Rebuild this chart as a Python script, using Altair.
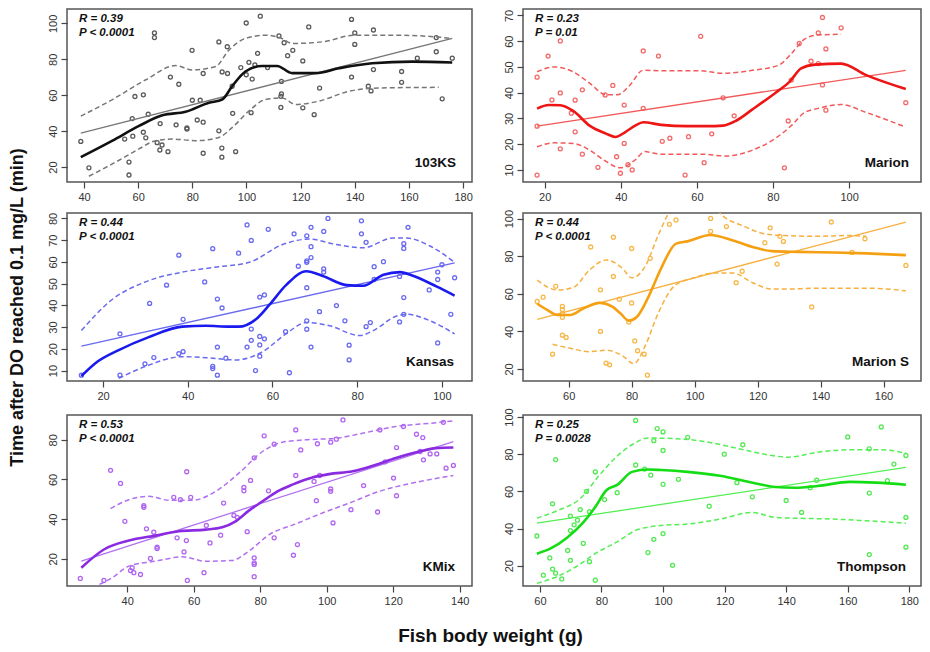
import altair as alt
import pandas as pd

FONT = "Liberation Sans"

# ---------------- Panel 1: 103KS ----------------
ks_px = [38.8, 41.8, 55, 56.6, 56.6, 57.8, 58.8, 58, 61.9, 61.9, 62.8, 63.7, 66, 66, 67, 68.1, 68, 68.8, 71, 71.9,
         74, 75, 78, 78, 79.9, 80, 81.8, 82.9, 84, 84, 84, 89.8, 89.8, 90.9, 90.9, 91, 92.9, 93, 94.9, 94.7,
         96, 97.9, 99.9, 99.9, 100.9, 101.7, 102.1, 103.1, 104.1, 105.1, 107.8, 112, 112.7, 112.9, 112.7, 112.9,
         113.9, 115.2, 117.1, 120.8, 120.8, 123, 125, 127, 138.8, 138.8, 140, 140, 145, 146, 146.9, 146.9,
         157.3, 157.3, 163.1, 170.1, 170.1, 172.3, 176]
ks_py = [34.3, 19.6, 35.6, 22.8, 15.6, 47, 59.3, 37.2, 60.2, 39.4, 36.3, 49.4, 94.7, 92.1, 33.6, 44.2, 29.5, 32.3, 28.6, 70.1,
         43.5, 66.1, 41.8, 41.2, 85, 57.2, 46.2, 57.2, 45, 27.7, 72.1, 89.7, 40.2, 30.6, 25.5, 73, 87, 72.1, 49.9, 65,
         28.6, 75.4, 100.2, 71.4, 78.3, 50.3, 69, 76.9, 83.3, 104, 75.4, 93, 59.4, 60.7, 53.2, 67.7,
         89.2, 82, 85, 79.1, 53, 98, 49.2, 64, 102.2, 70.1, 94.7, 88.3, 65, 62.4, 96.3, 74.3,
         73.2, 67.2, 80.6, 84.2, 92.1, 58, 80.6]
ks_lx = [38.8, 50.5, 60.3, 68.9, 77.5, 86.1, 91, 94.7, 99.6, 105.8, 111.3, 116.9, 125.5, 134.1, 146.4, 161.2, 176]
ks_ly = [25.5, 34.7, 42.9, 48.8, 50.8, 55.8, 57.6, 65, 73.2, 76.3, 76.3, 72.3, 72.3, 75, 77.8, 78.7, 78.2]
ks_ux = [38.8, 50.5, 62.8, 73.8, 80, 88.6, 93.5, 99.6, 107, 113.1, 116.9, 127.9, 140, 154.8, 167.1, 176]
ks_uy = [48.4, 57.6, 68.6, 76.5, 74.1, 76, 85.1, 91.6, 93.4, 91.6, 88.8, 89.7, 93.4, 93.4, 92.8, 91.6]
ks_dx = [41.8, 51.7, 60.3, 66.4, 72.6, 81.2, 89.8, 94.7, 100.9, 107, 113.1, 118.1, 126.7, 137.8, 148.8, 171]
ks_dy = [14.9, 22.8, 30.1, 34.7, 35.6, 34.7, 36.5, 42, 51.2, 57.6, 58.5, 54.9, 56.7, 62.2, 64, 64.4]
ks_fx = [38.8, 176]
ks_fy = [38.9, 91.6]

# ---------------- Panel 2: Marion ----------------
ma_px = [18, 18, 18, 20.9, 21.9, 24.1, 24.1, 24.1, 27, 28, 28, 29.9, 29.9, 34, 35.9, 37.9, 38.9, 39.9, 40.9, 40.9,
         41.9, 43, 45.9, 45.9, 49.9, 50.9, 52.9, 56.9, 57.8, 61, 61.9, 63.9, 66.9, 69.8, 83, 84, 84.8, 86.9,
         90, 91.9, 91.9, 93, 93, 93.9, 93.9, 97.9, 114.9]
ma_py = [8, 27, 46, 54.2, 37.2, 60.1, 39.9, 18.2, 32, 24.8, 37.1, 41.1, 16.1, 11, 39.1, 42.8, 15.1, 8.7, 35.2, 20.3,
         12, 10, 56.2, 33.9, 54.2, 21.1, 22.3, 8, 22.9, 61.9, 12.8, 24, 38, 31, 10.8, 29, 44.9, 59.1,
         52.2, 63.2, 51.3, 69.2, 43, 57, 33.2, 65.2, 36.1]
ma_lx = [18, 21.1, 24.1, 27.5, 31.8, 36.1, 38.6, 41.2, 43.8, 45.9, 50.6, 57.5, 62.6, 66.9, 70.3, 74.6, 80.6, 84.4,
         87.4, 91, 97.9, 104.5, 114.9]
ma_ly = [33.8, 35.2, 35.1, 32.9, 27.2, 24.1, 22.8, 24.7, 27.2, 28.5, 27.5, 27, 27, 27.2, 29.1, 33.5, 39.9, 44.3,
         49.4, 50.9, 51.3, 46.8, 41.4]
ma_ux = [18, 22.4, 27.5, 31.8, 36.1, 39.1, 42.1, 45.9, 50.6, 60.9, 66.9, 74.6, 81.4, 84.8, 88.3, 91.7, 97.9]
ma_uy = [48.1, 50, 48.1, 43.7, 39.2, 39.2, 42.4, 48.7, 48.5, 48.5, 47.5, 48.7, 50.6, 55.1, 60.8, 62.4, 62.7]
ma_dx = [18, 22.4, 27.5, 31.8, 36.1, 39.9, 43.8, 46.3, 50.6, 60.9, 67.7, 74.6, 80.6, 84.8, 88.3, 91.7, 97.9, 104.5, 114.9]
ma_dy = [19, 20.5, 20.3, 17.7, 13.3, 10.8, 13.9, 17.1, 16.1, 16.1, 15.4, 17.7, 22.2, 27.2, 32.3, 33.8, 35.4, 32.3, 26.6]
ma_fx = [18, 114.9]
ma_fy = [27, 48.7]

# ---------------- Panel 3: Kansas ----------------
ka_px = [14.9, 24, 24, 29.9, 31, 32, 35, 37.9, 37.9, 38.9, 38.9, 44, 45.9, 45.9, 45.9, 47, 47, 47, 48.1, 49,
         52, 54, 54, 55, 55, 55, 56, 57, 57, 57, 57, 58.1, 58.1, 59, 63.1, 64, 65.1, 66.1, 68.1, 68.1,
         68.1, 68.1, 68.1, 68.1, 69.1, 69.1, 69.1, 69.1, 71.1, 72.1, 72.1, 72.1, 73.1, 75.1, 77.1, 78.1, 78.1,
         81, 81, 82.1, 82.1, 83.1, 84, 84, 86.2, 90, 90, 91, 91, 91, 91, 92, 97, 99, 99, 99, 100, 102.1, 103]
ka_py = [7.9, 26.9, 7.9, 13.1, 40.9, 16, 49.3, 63.1, 17.8, 33.6, 18.7, 50.8, 66.1, 11.9, 10.9, 42.9, 20.8, 7.9, 38.8, 15.7,
         64, 77, 20.8, 69.9, 29.1, 23.9, 10, 43.8, 25.7, 21.8, 16.6, 44.8, 24.6, 75, 27.9, 9, 72.9, 58, 72, 60.5,
         59.8, 48.1, 32.9, 29, 75.9, 67, 62, 20.8, 37.1, 74, 56.8, 55.3, 80, 39.9, 32.9, 21.7, 14.9,
         78.9, 72.9, 69, 30.2, 32.1, 57.8, 51.9, 60.1, 53.3, 32.4, 68.4, 66.2, 43.6, 35.9, 75.9, 47.1, 55.3, 51.9, 22.7, 58.7, 35.9, 52.7]
ka_lx = [14.9, 18.2, 23.7, 30.8, 38.7, 44.3, 49.8, 52, 56.1, 59.3, 63.2, 68, 71.9, 77.5, 81.4, 86.2, 90.1, 93.3, 98.8, 103]
ka_ly = [7.5, 13.4, 19.4, 25.4, 30.2, 30.6, 30.2, 30.2, 33.6, 40.3, 49.3, 55.7, 53.5, 49.3, 49, 54.1, 55.3, 53.5, 48.6, 44.5]
ka_ux = [14.9, 22.1, 30, 38.7, 46.2, 54.5, 62.4, 68.7, 75.1, 81.4, 88.5, 91.6, 97.2, 103]
ka_uy = [28.4, 42.6, 50.8, 55.3, 57.5, 59.8, 68, 70.5, 68, 66.5, 71, 71, 67.3, 59.8]
ka_dx = [23.7, 30, 38.7, 45.9, 51.4, 57.7, 63.2, 68, 73.5, 80.6, 83.8, 89.3, 91.6, 97.2, 103]
ka_dy = [6.4, 11.9, 16.4, 15.7, 14.9, 18.7, 26.9, 32.1, 30.6, 26.1, 28.4, 35.1, 35.9, 32.9, 26.9]
ka_fx = [14.9, 103]
ka_fy = [21.2, 59.5]

# ---------------- Panel 4: Marion S ----------------
ms_px = [50, 51.9, 54.9, 55.9, 58, 58, 58, 58, 58, 59.2, 67, 70.1, 70.1, 71.9, 73, 74.2, 74.2, 76.1, 79.1, 80,
         80, 81, 81.9, 84, 85, 85.9, 92, 94.1, 105.1, 105.1, 110.1, 113.2, 115.1, 122.3, 124, 126.2, 127.1,
         128.2, 137.2, 143.4, 150, 154.1, 167.1]
ms_py = [55.9, 58.2, 27.9, 64, 53.3, 51.6, 49.5, 47.5, 38, 36.8, 84.9, 62.1, 40, 23.1, 22.2, 90.1, 69.2, 57.1, 45, 84.1,
         55.1, 34.9, 29.7, 27.9, 16.7, 78.9, 97, 99.3, 100.1, 93.2, 95.8, 65.9, 72, 87.2, 95.1, 75.8, 90.6,
         87.9, 53, 98.2, 82, 89.3, 75.1]
ms_lx = [50, 53.3, 56.4, 60.5, 64.6, 69.8, 74, 76.5, 79.1, 81.7, 85.3, 89.4, 94.1, 97.7, 105, 112.2, 118.4, 124.6,
         132.8, 144.2, 154.5, 167.1]
ms_ly = [54.7, 51.3, 48.7, 48.7, 52.1, 55.2, 53, 49.5, 45.7, 47.8, 58.2, 73.7, 86.7, 87.9, 91.3, 88.4, 84.9, 82.7,
         82.3, 82, 81.5, 80.6]
ms_ux = [50, 56.4, 61.5, 66.7, 71.9, 77, 80.1, 84.3, 88.4, 92, 95, 100, 105, 109, 115.3, 122.5, 128.7, 139, 149.3, 154.5]
ms_uy = [67.3, 62, 63.4, 72.8, 78, 73.7, 68.5, 74.6, 91, 103.4, 108, 110, 108, 101.3, 96.2, 91.8, 91, 90.6, 91, 90.6]
ms_dx = [54.9, 59.5, 66.7, 71.9, 77, 80.7, 84.3, 88.4, 93.6, 99.8, 106, 112.2, 118.4, 124.6, 128.7, 139, 154.5, 167.1]
ms_dy = [33.1, 31.4, 29.2, 30, 27.1, 22.8, 32.3, 49.5, 64.2, 68.5, 71.1, 71.1, 65.9, 62.5, 62.5, 63, 63, 61.6]
ms_fx = [50, 167.1]
ms_fy = [46.4, 98.2]

# ---------------- Panel 5: KMix ----------------
km_px = [25.9, 33, 35, 38, 39.3, 41, 41.5, 42, 44, 45, 45, 45.8, 47, 48, 49, 49, 54, 55, 56, 57.1,
         57.8, 57.9, 58.1, 59.1, 63.1, 63.8, 64.9, 68.1, 69, 72.1, 73.1, 75.1, 75.1, 76.1, 77.1, 78.2, 78.2,
         78.2, 78.2, 78.2, 81.2, 82.5, 84.2, 84.2, 90, 90.7, 90.7, 91.2, 92.2, 96.2, 96.9, 97.2, 97.9, 101.2,
         101.2, 101.2, 101.9, 102.9, 104.9, 107.3, 111.1, 115.3, 116, 117.6, 120.1, 121, 121, 123.1, 127,
         128.1, 128.9, 129.1, 131.1, 133.1, 135.1, 135.9, 138.1]
km_py = [10.1, 9.1, 64.6, 58, 38.9, 14.1, 15.5, 13, 12.1, 46.8, 46, 35.1, 20.2, 33.4, 25.9, 25.2, 51, 30.6, 49.8, 23.5,
         29.2, 63.9, 9.1, 51, 13, 36.8, 28, 31.9, 48.1, 41.9, 40.9, 56, 54.3, 33.7, 59.5, 70.9, 20.5,
         18, 17.2, 11, 82, 54.3, 77.8, 30.6, 21.8, 85, 62, 27.2, 74.9, 59, 49.3, 78, 62, 78.8,
         55.2, 54, 38.1, 80.3, 90, 44.8, 56.9, 43.6, 85, 68.9, 60.7, 76.1, 51.8, 86.7, 82.8,
         74.1, 81.1, 69.9, 72.9, 72.9, 88.8, 65.7, 67.1]
km_lx = [26.2, 33, 40.5, 48.5, 55.6, 63.6, 68.6, 72.6, 76.6, 80.7, 85.2, 89.7, 95.7, 100.7, 107.8, 114.8, 120.8, 127.9, 132.9, 138.1]
km_ly = [15.5, 24.7, 29.2, 31.7, 33.9, 34.7, 35.9, 38.9, 44.3, 49, 54, 57.4, 61, 62.7, 64.1, 67.4, 70.8, 74.1, 75.8, 76.1]
km_ux = [35, 40.5, 46.5, 52.6, 59.6, 66.6, 73.6, 80.7, 86.7, 93.7, 102.8, 110.8, 120.8, 130.9, 138.1]
km_uy = [45.3, 49.8, 51.5, 49.5, 49.5, 54, 63.2, 74.1, 78.8, 80, 80.8, 83.3, 86.7, 88.3, 89.5]
km_dx = [29.5, 35.5, 40.5, 48.5, 56.6, 63.6, 71.6, 76.6, 82.7, 90.7, 98.7, 106.8, 115.8, 125.8, 138.1]
km_dy = [5.4, 10.5, 16.3, 18.8, 21, 18.8, 19.2, 23.9, 32.2, 37.6, 43.1, 48.1, 54, 58.2, 62]
km_fx = [26.2, 138.1]
km_fy = [18.8, 79.1]

# ---------------- Panel 6: Thompson ----------------
th_px = [59, 61.1, 63.2, 64.1, 64.1, 65.1, 65.1, 67.1, 69, 69.9, 69.9, 69.9, 71.1, 72.2, 73.1, 74.1, 75.1, 76.1, 76.1, 78,
         78, 81, 85.1, 91.1, 91.1, 94, 95.1, 96, 97, 97, 98.1, 100, 100, 100, 100, 103.1, 105, 108, 115,
         119.9, 124, 125.9, 129, 140, 145, 147.8, 149.9, 160, 167, 167, 167, 170.9, 172.9, 175, 178.9, 178.9, 178.9]
th_py = [36, 14.9, 24.2, 53.3, 18.2, 77.1, 16, 12.9, 28.2, 46.7, 38.9, 22.9, 42, 44.5, 50.2, 32, 60, 22.2, 49.1, 12.2,
         70.5, 55.6, 59.3, 98.2, 74.2, 72, 27.1, 68.7, 87.3, 34.2, 93.8, 92, 82, 63.8, 37.3, 20.2, 66.5, 89.1, 52,
         80, 64.7, 85.1, 57.1, 55.1, 48.7, 62, 66, 89.3, 82.9, 59.1, 26, 94.7, 65.8, 74.7, 79.3, 46, 30]
th_lx = [59, 63.5, 68.8, 74.1, 78.3, 81.5, 85.2, 89.9, 95.2, 99.4, 107.9, 118.5, 128, 136.4, 142.8, 150.2, 160.7, 169.2, 178.9]
th_ly = [26.5, 29.3, 35.1, 43.3, 52.4, 60.5, 63.6, 70.5, 71.8, 71.5, 70.5, 68.4, 65.1, 62.4, 62, 62.9, 65.1, 64.7, 63.6]
th_ux = [59, 65.6, 73, 79.3, 84.6, 89.9, 95.2, 103.7, 113.2, 123.7, 134.3, 140.7, 150.2, 160.7, 171.3, 178.9]
th_uy = [45.6, 49.6, 56, 68.7, 78.2, 85.1, 88.7, 88.4, 86.9, 83.3, 79.6, 78.4, 81.1, 82.4, 82.4, 80.5]
th_dx = [59, 65.6, 71.9, 78.3, 84.6, 92, 100.5, 107.9, 118.5, 129, 136.4, 144.9, 155.4, 166, 178.9]
th_dy = [10.5, 14.2, 19.6, 26.9, 32.4, 39.6, 41.8, 42.4, 45.1, 48.7, 46, 45.5, 45.1, 44.2, 42.9]
th_fx = [59, 178.9]
th_fy = [42.9, 72.9]

names = ["103KS", "Marion", "Kansas", "Marion S", "KMix", "Thompson"]
r_vals = ["0.39", "0.23", "0.44", "0.44", "0.53", "0.25"]
p_vals = ["P < 0.0001", "P = 0.01", "P < 0.0001", "P < 0.0001", "P < 0.0001", "P = 0.0028"]

x_ticks = [[40, 60, 80, 100, 120, 140, 160, 180], [20, 40, 60, 80, 100], [20, 40, 60, 80, 100],
           [60, 80, 100, 120, 140, 160], [40, 60, 80, 100, 120, 140], [60, 80, 100, 120, 140, 160, 180]]
y_ticks = [[20, 40, 60, 80, 100], [10, 20, 30, 40, 50, 60, 70], [10, 20, 30, 40, 50, 60, 70, 80],
           [20, 40, 60, 80, 100], [20, 40, 60, 80], [20, 40, 60, 80, 100]]
x_dom = [[33.7, 183.3], [14.3, 118.9], [11.5, 107.1], [45.5, 171.9], [21.9, 143.7], [54.5, 183.8]]
y_dom = [[11.7, 108], [5.3, 72.5], [5.2, 82.5], [13.6, 103], [6.3, 92.5], [9.1, 101.1]]

pt_col = ["#5a5a5a", "#f26a6a", "#6a6af0", "#f7b84a", "#b066f0", "#55e855"]
lo_col = ["#111111", "#ee1515", "#1a1aee", "#f5a012", "#8a2be2", "#15dd15"]
ln_col = ["#777777", "#f25a5a", "#6a6af0", "#f7b040", "#b070f0", "#55ee55"]

series = [
    (ks_px, ks_py, ks_lx, ks_ly, ks_ux, ks_uy, ks_dx, ks_dy, ks_fx, ks_fy),
    (ma_px, ma_py, ma_lx, ma_ly, ma_ux, ma_uy, ma_dx, ma_dy, ma_fx, ma_fy),
    (ka_px, ka_py, ka_lx, ka_ly, ka_ux, ka_uy, ka_dx, ka_dy, ka_fx, ka_fy),
    (ms_px, ms_py, ms_lx, ms_ly, ms_ux, ms_uy, ms_dx, ms_dy, ms_fx, ms_fy),
    (km_px, km_py, km_lx, km_ly, km_ux, km_uy, km_dx, km_dy, km_fx, km_fy),
    (th_px, th_py, th_lx, th_ly, th_ux, th_uy, th_dx, th_dy, th_fx, th_fy),
]

widths = [405, 398, 405, 398, 405, 398]
heights = [173, 173, 168, 168, 171, 171]
label_right = [16, 12, 18, 12, 17, 15]


def panel(i):
    px, py, lx, ly, ux, uy, dx, dy, fx, fy = series[i]
    w, h = widths[i], heights[i]
    xs = alt.Scale(domain=x_dom[i], nice=False, zero=False)
    ys = alt.Scale(domain=y_dom[i], nice=False, zero=False)
    common = dict(grid=False, domain=False, tickSize=6, tickColor="#444444", tickWidth=1.2,
                  labelFontSize=11, labelColor="#333333", labelFont=FONT, labelFlush=False,
                  labelOverlap=False, title=None)
    xa = alt.Axis(values=x_ticks[i], labelPadding=3, **common)
    ya = alt.Axis(values=y_ticks[i], labelPadding=3, labelAngle=270, labelAlign="center",
                  labelBaseline="bottom", **common)
    X = alt.X("x:Q", scale=xs, axis=xa)
    Y = alt.Y("y:Q", scale=ys, axis=ya)

    pts = alt.Chart(pd.DataFrame({"x": px, "y": py})).mark_point(
        shape="circle", filled=False, size=16, strokeWidth=1.3, color=pt_col[i], opacity=1
    ).encode(x=X, y=Y)

    def line(xv, yv, color, width, dash=None):
        kw = dict(color=color, strokeWidth=width, clip=True)
        if dash:
            kw["strokeDash"] = dash
        return alt.Chart(pd.DataFrame({"x": xv, "y": yv, "o": list(range(len(xv)))})).mark_line(
            interpolate="monotone", **kw).encode(x=X, y=Y, order="o:Q")

    fit = line(fx, fy, ln_col[i], 1.3)
    up = line(ux, uy, ln_col[i], 1.5, [5, 3])
    dn = line(dx, dy, ln_col[i], 1.5, [5, 3])
    lo = line(lx, ly, lo_col[i], 2.6)

    stat = alt.Chart(pd.DataFrame({"t": ["R = " + r_vals[i] + "\n" + p_vals[i]]})).mark_text(
        align="left", baseline="top", font=FONT, fontSize=11.5, fontWeight="bold", fontStyle="italic",
        color="#111111", lineBreak="\n", lineHeight=14
    ).encode(text="t:N", x=alt.value(12), y=alt.value(4))

    lab = alt.Chart(pd.DataFrame({"t": [names[i]]})).mark_text(
        align="right", baseline="middle", font=FONT, fontSize=13.5, fontWeight="bold", color="#111111"
    ).encode(text="t:N", x=alt.value(w - label_right[i]), y=alt.value(h - 19))

    return alt.layer(pts, fit, up, dn, lo, stat, lab).properties(width=w, height=h)


rows = [alt.hconcat(panel(2 * r), panel(2 * r + 1), spacing=29) for r in range(3)]
grid = alt.vconcat(*rows, spacing=5)

inner = alt.hconcat(grid).properties(
    title=alt.TitleParams("Time after DO reached 0.1 mg/L (min)", orient="left", anchor="middle",
                          font=FONT, fontSize=18, fontWeight="bold", color="#111111", offset=19)
)
chart = alt.vconcat(inner).properties(
    title=alt.TitleParams("Fish body weight (g)", orient="bottom", anchor="middle",
                          font=FONT, fontSize=19, fontWeight="bold", color="#111111", offset=20, dx=25),
    padding={"left": 1, "top": 0, "right": 0, "bottom": 0},
).configure_view(stroke="#555555", strokeWidth=1.5).configure_concat(spacing=0)

chart.save("out.html", embed_options={"renderer": "svg", "actions": False})
